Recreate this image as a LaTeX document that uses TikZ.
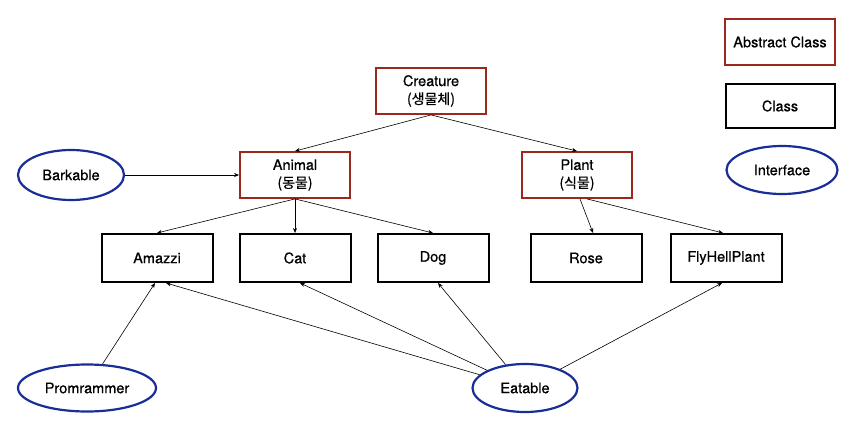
\documentclass[tikz,border=0pt]{standalone}
\usepackage{fontspec}
\setmainfont{TeX Gyre Heros}[FakeBold=0.6]
\newfontfamily\kr{Noto Sans CJK KR}[FakeBold=0.5]
\usetikzlibrary{shapes.geometric,arrows.meta}
\definecolor{absred}{RGB}{155,40,30}
\definecolor{ifblue}{RGB}{25,45,150}
\newcommand{\krtext}[1]{{\fontsize{14}{18}\kr #1}}

\begin{document}
\begin{tikzpicture}[x=1pt, y=-1pt,
  abstrakt/.style={draw=absred, line width=1.8pt, minimum width=110pt, minimum height=46pt, align=center, font=\fontsize{14.5}{18}\selectfont},
  klasse/.style={draw, line width=2pt, minimum width=111pt, minimum height=48pt, align=center, font=\fontsize{14.5}{18}\selectfont},
  iface/.style={ellipse, draw=ifblue, line width=2.2pt, minimum width=106pt, minimum height=50pt, inner sep=0pt, font=\fontsize{14.5}{18}\selectfont},
  erbt/.style={-{Stealth[length=5pt,width=4pt]}, line width=0.6pt}]
\useasboundingbox (0,0) rectangle (860,431);
% abstract classes
\node[abstrakt] (creature) at (431,91) {Creature\\ \krtext{(생물체)}};
\node[abstrakt] (animal) at (295,175) {Animal\\ \krtext{(동물)}};
\node[abstrakt] (plant) at (577,175) {Plant\\ \krtext{(식물)}};
% classes
\node[klasse] (amazzi) at (157,258) {Amazzi};
\node[klasse] (cat) at (295,258) {Cat};
\node[klasse] (dog) at (433,258) {Dog};
\node[klasse] (rose) at (586,258) {Rose};
\node[klasse] (fly) at (726,258) {FlyHellPlant};
% interfaces
\node[iface] (bark) at (71,175) {Barkable};
\node[iface, minimum width=138pt, minimum height=47pt] (prog) at (87,388) {Promrammer};
\node[iface, minimum width=105pt, minimum height=48pt] (eat) at (525,388) {Eatable};
% legend
\node[abstrakt] (lgabs) at (780,42) {Abstract Class};
\node[klasse, minimum width=109pt, minimum height=44pt] (lgcls) at (780,106) {Class};
\node[iface, minimum width=111pt, minimum height=48pt] (lgif) at (782,170) {Interface};
% inheritance
\draw[erbt] (creature.south) -- (animal.north);
\draw[erbt] (creature.south) -- (plant.north);
\draw[erbt] (bark) -- (animal);
\draw[erbt] (animal.south) -- (amazzi.north);
\draw[erbt] (animal.south) -- (cat.north);
\draw[erbt] (animal.south) -- (dog.north);
\draw[erbt] ([xshift=3pt]plant.south) -- ([xshift=7pt]rose.north);
\draw[erbt] ([xshift=10pt]plant.south) -- ([xshift=-3pt]fly.north);
% implementation
\draw[erbt] (prog) -- ([xshift=-2pt]amazzi.south);
\draw[erbt] (eat) -- ([xshift=9pt]amazzi.south);
\draw[erbt] (eat) -- ([xshift=5pt]cat.south);
\draw[erbt] (eat) -- ([xshift=5pt]dog.south);
\draw[erbt] (eat) -- ([xshift=-4pt]fly.south);
\end{tikzpicture}
\end{document}
